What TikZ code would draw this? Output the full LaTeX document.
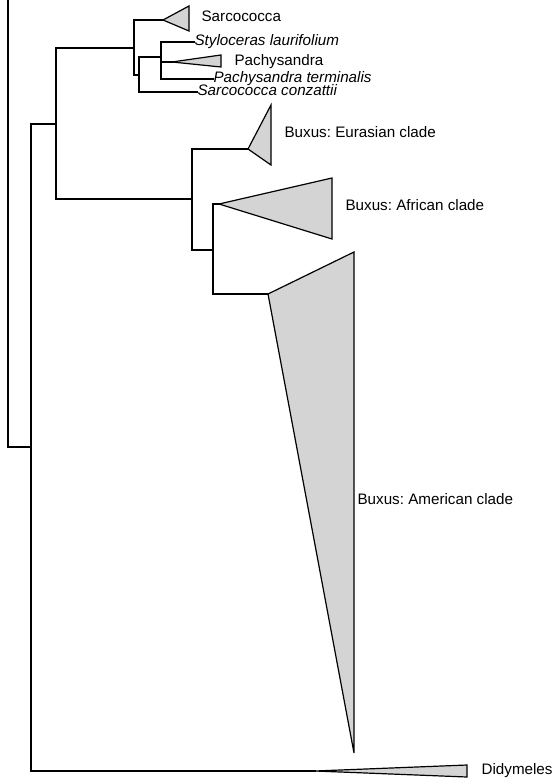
\documentclass[tikz,border=0pt]{standalone}
\usepackage{fontspec}
\setmainfont{Liberation Sans}
\frenchspacing
\begin{document}
\begin{tikzpicture}[x=1pt, y=-1pt, line width=1.2pt, line cap=rect,
    clade/.style={draw=black, fill=black!17, line cap=butt},
    taxon/.style={anchor=west, inner sep=0pt, font=\fontsize{15.2}{18}\selectfont,
                  text height=10.8pt, text depth=3.2pt},
    species/.style={taxon, font=\fontsize{15.2}{18}\selectfont\itshape}]
    \useasboundingbox[fill=white] (0,0) rectangle (554,778);

    \coordinate (topcut) at (8,0);
    \coordinate (n1) at (31,447);
    \coordinate (n2) at (56,124);
    \coordinate (n3) at (134,48);
    \coordinate (n4) at (139,75);
    \coordinate (n5) at (161,57);
    \coordinate (n7) at (192,199);
    \coordinate (n8) at (213,250);

    \coordinate (sarc tip) at (163,20);
    \coordinate (pachy tip) at (172,62);
    \coordinate (eur tip) at (248,149);
    \coordinate (afr tip) at (219,204);
    \coordinate (amer tip) at (268,294);
    \coordinate (didy tip) at (315,771);

    \filldraw[clade] (sarc tip) -- (189,6) -- (189,31) -- cycle;
    \filldraw[clade] (pachy tip) -- (221,55) -- (221,67) -- cycle;
    \filldraw[clade] (eur tip) -- (271,105) -- (271,165) -- cycle;
    \filldraw[clade] (afr tip) -- (332,178) -- (332,239) -- cycle;
    \filldraw[clade] (amer tip) -- (354,252) -- (354,753) -- cycle;
    \filldraw[clade] (didy tip) -- (467,765) -- (467,777) -- cycle;

    \node[taxon] (sarc label) at (201,18) {Sarcococca};
    \node[taxon] (pachy label) at (234,62) {Pachysandra};
    \node[taxon] (eur label) at (284,134) {Buxus: Eurasian clade};
    \node[taxon] (afr label) at (345,207) {Buxus: African clade};
    \node[taxon] (amer label) at (357,501) {Buxus: American clade};
    \node[taxon] (didy label) at (481,771) {Didymeles};

    \node[species] (styl) at (194,42) {Styloceras laurifolium};
    \node[species] (pterm) at (213,79) {Pachysandra terminalis};
    \node[species] (sconz) at (197,92) {Sarcococca conzattii};

    \draw (topcut) |- (n1);
    \draw (n1) |- (n2);
    \draw (n1) |- (didy tip);
    \draw (n2) |- (n3);
    \draw (n2) |- (n7);
    \draw (n3) |- (sarc tip);
    \draw (n3) |- (n4);
    \draw (n4) |- (n5);
    \draw (n4) |- (sconz.west);
    \draw (n5) |- (styl.west);
    \draw (n5) |- (pachy tip);
    \draw (n5) |- (pterm.west);
    \draw (n7) |- (eur tip);
    \draw (n7) |- (n8);
    \draw (n8) |- (afr tip);
    \draw (n8) |- (amer tip);
\end{tikzpicture}
\end{document}
